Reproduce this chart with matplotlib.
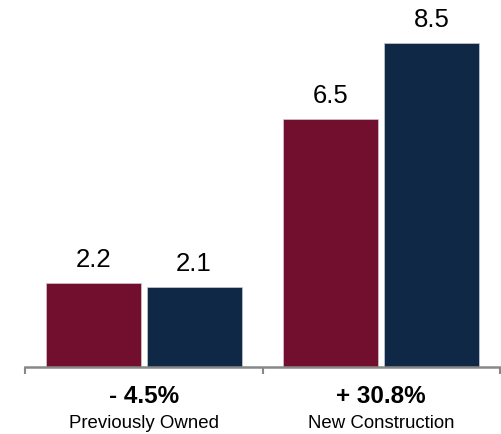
import matplotlib.pyplot as plt

categories = ['Previously Owned', 'New Construction']
changes = ['- 4.5%', '+ 30.8%']
before = [2.2, 6.5]
after = [2.1, 8.5]

plt.rcParams['font.family'] = ['Liberation Sans', 'DejaVu Sans']

fig = plt.figure(figsize=(5.01, 4.35), dpi=100)
ax = fig.add_axes([25 / 501, 67 / 435, 475 / 501, 362 / 435])

x = list(range(len(categories)))
w = 0.40
off = 0.212
b1 = ax.bar([i - off for i in x], before, w, color='#730f2e', edgecolor='#d8c8cc', linewidth=0.5)
b2 = ax.bar([i + off for i in x], after, w, color='#0f2846', edgecolor='#c8ccd4', linewidth=0.5)

# value labels above each bar
for bars in (b1, b2):
    for bar in bars:
        ax.annotate(str(bar.get_height()), (bar.get_x() + bar.get_width() / 2, bar.get_height()),
                    xytext=(0, 12.5), textcoords='offset points', ha='center', va='baseline',
                    fontsize=18.5)

ax.set_xlim(-0.5, 1.5)
ax.set_ylim(0, 9.5)
for s in ['top', 'right', 'left']:
    ax.spines[s].set_visible(False)
ax.spines['bottom'].set_color('#888888')
ax.spines['bottom'].set_linewidth(1.8)
ax.set_yticks([])
ax.set_xticks([-0.5, 0.5, 1.5])
ax.set_xticklabels([])
ax.tick_params(axis='x', direction='out', length=5, width=1.5, color='#888888')

# change and category labels under the axis
for i in x:
    ax.text(i, -0.92, changes[i], ha='center', va='baseline', fontsize=17.5, fontweight='bold')
    ax.text(i, -1.58, categories[i], ha='center', va='baseline', fontsize=13.4)

fig.savefig('out.png', dpi=100)
